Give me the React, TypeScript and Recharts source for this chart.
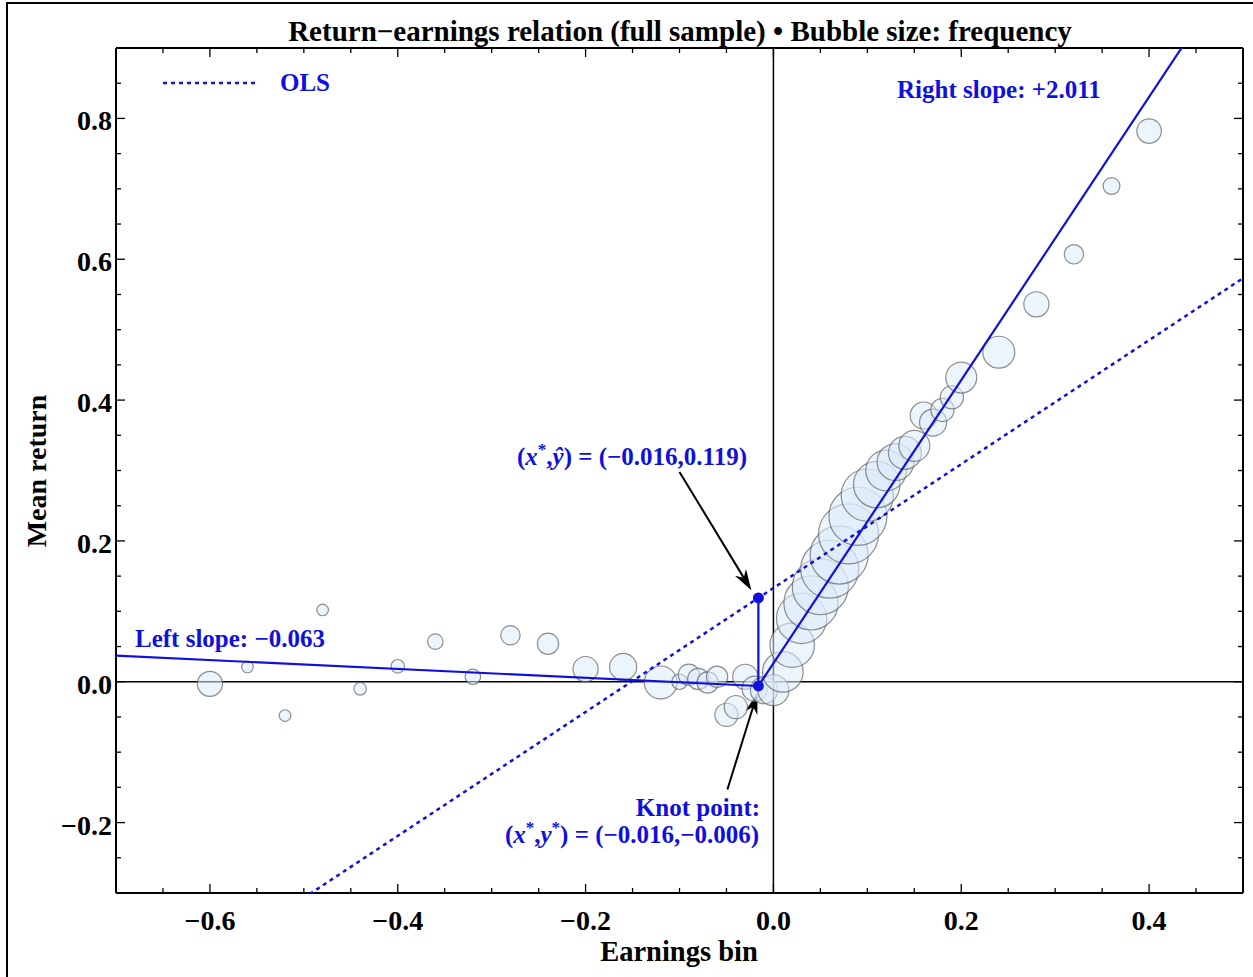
import { ScatterChart, Scatter, XAxis, YAxis, ZAxis, ReferenceLine } from 'recharts'

// earnings bins, mean return per bin, bin frequency (bubble area)
const binX = [
  -0.6, -0.56, -0.52, -0.48, -0.44, -0.4, -0.36, -0.32, -0.28, -0.24, -0.2, -0.16, -0.12,
  -0.1, -0.09, -0.08, -0.07, -0.06, -0.05, -0.04, -0.03, -0.02, -0.01,
  0.0, 0.01, 0.02, 0.03, 0.04, 0.05, 0.06, 0.07, 0.08, 0.09, 0.1,
  0.11, 0.12, 0.13, 0.14, 0.15, 0.16, 0.17, 0.18, 0.19, 0.2,
  0.24, 0.28, 0.32, 0.36, 0.4,
]
const meanRet = [
  -0.003, 0.021, -0.048, 0.102, -0.01, 0.022, 0.057, 0.007, 0.066, 0.054, 0.018, 0.021, -0.001,
  0.0, 0.01, 0.004, -0.001, 0.007, -0.047, -0.036, 0.007, -0.01, -0.012,
  -0.012, 0.014, 0.052, 0.09, 0.112, 0.135, 0.16, 0.18, 0.21, 0.235, 0.265,
  0.28, 0.3, 0.312, 0.325, 0.335, 0.378, 0.368, 0.386, 0.404, 0.432,
  0.468, 0.536, 0.607, 0.704, 0.782,
]
const freq = [
  169, 36, 36, 36, 42, 49, 64, 64, 100, 121, 169, 196, 289,
  64, 121, 121, 121, 121, 144, 144, 169, 169, 196,
  256, 441, 529, 676, 784, 841, 900, 900, 961, 900, 729,
  576, 441, 361, 289, 256, 196, 196, 144, 144, 256,
  272, 169, 100, 76, 160,
]

const bubbles = binX.map((x, i) => ({ x, y: meanRet[i], freq: freq[i] }))

// fitted model
const knot = { x: -0.016, y: -0.006 }
const olsAtKnot = 0.119
const leftSlope = -0.063
const rightSlope = 2.011
const olsSlope = 0.88
const olsIntercept = olsAtKnot - olsSlope * knot.x

const xDomain: [number, number] = [-0.7, 0.5]
const yDomain: [number, number] = [-0.3, 0.9]

const xMajor = [-0.6, -0.4, -0.2, 0, 0.2, 0.4]
const xMajorLabels = ['\u22120.6', '\u22120.4', '\u22120.2', '0.0', '0.2', '0.4']
const yMajor = [-0.2, 0, 0.2, 0.4, 0.6, 0.8]
const yMajorLabels = ['\u22120.2', '0.0', '0.2', '0.4', '0.6', '0.8']

const step = 0.05
const xTicks = Array.from({ length: 25 }, (_, i) => +(xDomain[0] + i * step).toFixed(2))
const yTicks = Array.from({ length: 25 }, (_, i) => +(yDomain[0] + i * step).toFixed(2))

const lineAt = (x: number, x0: number, y0: number, slope: number) => y0 + slope * (x - x0)

const olsSeg = xDomain.map((x) => ({ x, y: olsIntercept + olsSlope * x }))
const leftSeg = [{ x: xDomain[0], y: lineAt(xDomain[0], knot.x, knot.y, leftSlope) }, knot]
const rightSeg = [knot, { x: xDomain[1], y: lineAt(xDomain[1], knot.x, knot.y, rightSlope) }]
const dropSeg = [knot, { x: knot.x, y: olsAtKnot }]
const keyPoints = [knot, { x: knot.x, y: olsAtKnot }]

// annotation arrows (tail -> head), in data units
const arrowHat = [{ x: -0.1, y: 0.298 }, { x: -0.0235, y: 0.13 }]
const arrowKnot = [{ x: -0.049, y: -0.153 }, { x: -0.017, y: -0.016 }]

const BLUE = '#1010dc'
const FONT = "'Liberation Serif', 'Times New Roman', serif"

const labelFor = (v: number, majors: number[], labels: string[]) => {
  const i = majors.findIndex((m) => Math.abs(m - v) < 1e-6)
  return i >= 0 ? labels[i] : null
}

const BottomTick = (p: any) => {
  const lab = labelFor(p.payload.value, xMajor, xMajorLabels)
  return (
    <g>
      <line x1={p.x} x2={p.x} y1={p.y} y2={p.y - (lab ? 9 : 5)} stroke="#000" strokeWidth={1.3} />
      {lab && (
        <text x={p.x} y={p.y + 37} textAnchor="middle" fontFamily={FONT} fontWeight="bold" fontSize={28} fill="#000">
          {lab}
        </text>
      )}
    </g>
  )
}

const TopTick = (p: any) => {
  const major = labelFor(p.payload.value, xMajor, xMajorLabels)
  return <line x1={p.x} x2={p.x} y1={p.y} y2={p.y + (major ? 9 : 5)} stroke="#000" strokeWidth={1.3} />
}

const LeftTick = (p: any) => {
  const lab = labelFor(p.payload.value, yMajor, yMajorLabels)
  return (
    <g>
      <line x1={p.x} x2={p.x + (lab ? 9 : 5)} y1={p.y} y2={p.y} stroke="#000" strokeWidth={1.3} />
      {lab && (
        <text x={p.x - 4} y={p.y + 12} textAnchor="end" fontFamily={FONT} fontWeight="bold" fontSize={28} fill="#000">
          {lab}
        </text>
      )}
    </g>
  )
}

const RightTick = (p: any) => {
  const major = labelFor(p.payload.value, yMajor, yMajorLabels)
  return <line x1={p.x} x2={p.x - (major ? 9 : 5)} y1={p.y} y2={p.y} stroke="#000" strokeWidth={1.3} />
}

const Arrow = (props: any) => {
  const { x1, y1, x2, y2 } = props
  const a = Math.atan2(y2 - y1, x2 - x1)
  const len = 21
  const half = 6.5
  const c = Math.cos(a)
  const s = Math.sin(a)
  const bx = x2 - len * c
  const by = y2 - len * s
  const nx = x2 - len * 0.7 * c
  const ny = y2 - len * 0.7 * s
  return (
    <g>
      <line x1={x1} y1={y1} x2={nx} y2={ny} stroke="#000" strokeWidth={2} />
      <polygon
        points={`${x2},${y2} ${bx - s * half},${by + c * half} ${nx},${ny} ${bx + s * half},${by - c * half}`}
        fill="#000"
      />
    </g>
  )
}

const NoShape = () => <g />
const KeyDot = (p: any) => <circle cx={p.cx} cy={p.cy} r={5.5} fill={BLUE} />

export default function App() {
  return (
    <div style={{ position: 'absolute', left: 0, top: 0, width: 1253, height: 977, overflow: 'hidden', background: '#fff' }}>
      <div
        style={{
          position: 'absolute', left: 6, top: 2, width: 1300, height: 1000,
          borderLeft: '2px solid #000', borderTop: '2px solid #000',
        }}
      />
      <div style={{ position: 'absolute', left: 0, top: 0 }}>
        <ScatterChart width={1253} height={977} margin={{ top: 47, right: 9, bottom: 0, left: 0 }}>
          <XAxis
            type="number" dataKey="x" domain={xDomain} ticks={xTicks} interval={0} allowDataOverflow
            height={84} tickSize={0} tickMargin={0} tickLine={false} tick={<BottomTick />}
            axisLine={{ stroke: '#000', strokeWidth: 2 }}
          />
          <XAxis
            xAxisId="top" orientation="top" type="number" dataKey="x" domain={xDomain} ticks={xTicks} interval={0}
            allowDataOverflow height={1} tickSize={0} tickMargin={0} tickLine={false} tick={<TopTick />}
            axisLine={{ stroke: '#000', strokeWidth: 2 }}
          />
          <YAxis
            type="number" dataKey="y" domain={yDomain} ticks={yTicks} interval={0} allowDataOverflow
            width={116} tickSize={0} tickMargin={0} tickLine={false} tick={<LeftTick />}
            axisLine={{ stroke: '#000', strokeWidth: 2 }}
          />
          <YAxis
            yAxisId="right" orientation="right" type="number" dataKey="y" domain={yDomain} ticks={yTicks} interval={0}
            allowDataOverflow width={1} tickSize={0} tickMargin={0} tickLine={false} tick={<RightTick />}
            axisLine={{ stroke: '#000', strokeWidth: 2 }}
          />
          <ZAxis type="number" dataKey="freq" domain={[0, 900]} range={[0, 900 * Math.PI]} />
          <ReferenceLine x={0} stroke="#000" strokeWidth={1.5} />
          <ReferenceLine y={0} stroke="#000" strokeWidth={1.5} />
          <ReferenceLine x={xDomain[1]} stroke="#000" strokeWidth={2} />
          <ReferenceLine y={yDomain[1]} stroke="#000" strokeWidth={2} />
          <Scatter
            data={bubbles} isAnimationActive={false}
            fill="#dcebf9" fillOpacity={0.55} stroke="#555" strokeOpacity={0.65} strokeWidth={1.2}
          />
          <Scatter
            data={olsSeg} isAnimationActive={false} shape={<NoShape />}
            line={{ stroke: BLUE, strokeWidth: 2.5, strokeDasharray: '4 4' }}
          />
          <Scatter data={leftSeg} isAnimationActive={false} shape={<NoShape />} line={{ stroke: BLUE, strokeWidth: 2.2 }} />
          <Scatter data={rightSeg} isAnimationActive={false} shape={<NoShape />} line={{ stroke: BLUE, strokeWidth: 2.2 }} />
          <Scatter data={dropSeg} isAnimationActive={false} shape={<NoShape />} line={{ stroke: BLUE, strokeWidth: 2.2 }} />
          <Scatter data={keyPoints} isAnimationActive={false} shape={<KeyDot />} />
          <ReferenceLine ifOverflow="visible" segment={arrowHat} shape={<Arrow />} />
          <ReferenceLine ifOverflow="visible" segment={arrowKnot} shape={<Arrow />} />
        </ScatterChart>
      </div>
      <svg width={1253} height={977} style={{ position: 'absolute', left: 0, top: 0, pointerEvents: 'none' }}>
        <g fontFamily={FONT} fontWeight="bold">
          <text x={680} y={41} textAnchor="middle" fontSize={29} fill="#000">
            Return{'\u2212'}earnings relation (full sample) {'\u2022'} Bubble size: frequency
          </text>
          <text x={679} y={961} textAnchor="middle" fontSize={28.5} fill="#000">Earnings bin</text>
          <text x={46} y={471} textAnchor="middle" fontSize={28} fill="#000" transform="rotate(-90 46 471)">
            Mean return
          </text>
          <line x1={163} x2={258} y1={83} y2={83} stroke={BLUE} strokeWidth={2.5} strokeDasharray="4 4" />
          <text x={280} y={91} fontSize={25} fill={BLUE}>OLS</text>
          <text x={897} y={98} fontSize={25} fill={BLUE}>Right slope: +2.011</text>
          <text x={135} y={647} fontSize={25} fill={BLUE}>Left slope: {'\u2212'}0.063</text>
          <text x={632} y={465} textAnchor="middle" fontSize={25} fill={BLUE}>
            (<tspan fontStyle="italic">x</tspan>
            <tspan dy={-10} fontSize={17}>*</tspan>
            <tspan dy={10}>,</tspan>
            <tspan fontStyle="italic">{'\u0177'}</tspan>) = ({'\u2212'}0.016,0.119)
          </text>
          <text x={698} y={816} textAnchor="middle" fontSize={25} fill={BLUE}>Knot point:</text>
          <text x={632} y={843} textAnchor="middle" fontSize={25} fill={BLUE}>
            (<tspan fontStyle="italic">x</tspan>
            <tspan dy={-10} fontSize={17}>*</tspan>
            <tspan dy={10}>,</tspan>
            <tspan fontStyle="italic">y</tspan>
            <tspan dy={-10} fontSize={17}>*</tspan>
            <tspan dy={10}>) = ({'\u2212'}0.016,{'\u2212'}0.006)</tspan>
          </text>
        </g>
      </svg>
    </div>
  )
}
